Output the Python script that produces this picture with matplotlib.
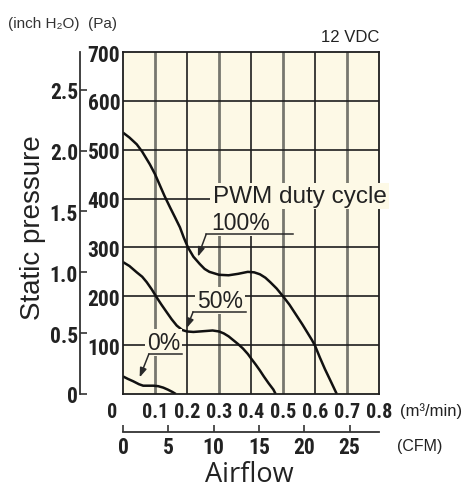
import matplotlib
matplotlib.use("Agg")
import matplotlib.pyplot as plt
from matplotlib import font_manager
import numpy as np

# ---------------- data ----------------
flow_100 = [0.0, 0.02, 0.043, 0.06, 0.084, 0.1, 0.116, 0.13, 0.147, 0.163, 0.178, 0.19,
            0.203, 0.22, 0.24, 0.255, 0.27, 0.30, 0.33, 0.36, 0.39, 0.41, 0.428, 0.445,
            0.46, 0.48, 0.5, 0.52, 0.543, 0.56, 0.575, 0.59, 0.6, 0.615, 0.631, 0.65, 0.668]
pres_100 = [535, 525, 511, 496, 470, 450, 426, 405, 382, 361, 341, 320,
            300, 281, 266, 256, 250, 244, 243, 246, 250, 249, 245, 238,
            229, 216, 200, 183, 160, 143, 127, 111, 99, 75, 51, 25, 0]

flow_50 = [0.0, 0.02, 0.043, 0.06, 0.074, 0.09, 0.105, 0.12, 0.137, 0.152, 0.168, 0.185,
           0.2, 0.22, 0.24, 0.26, 0.28, 0.3, 0.315, 0.33, 0.345, 0.36, 0.375, 0.39,
           0.40, 0.415, 0.428, 0.44, 0.455, 0.47, 0.477]
pres_50 = [270, 262, 249, 240, 229, 214, 198, 183, 167, 153, 140, 131,
           128, 127, 128, 129, 130, 128, 124, 118, 110, 102, 93, 82,
           73, 60, 48, 36, 22, 9, 0]

flow_0 = [0.0, 0.015, 0.032, 0.05, 0.063, 0.08, 0.095, 0.11, 0.126, 0.14, 0.155, 0.165]
pres_0 = [36, 31, 26, 20, 17, 17, 17, 16, 13, 9, 4, 0]

x_ticks = [0.0, 0.1, 0.2, 0.3, 0.4, 0.5, 0.6, 0.7, 0.8]
x_tick_labels = ["", "0.1", "0.2", "0.3", "0.4", "0.5", "0.6", "0.7", "0.8"]
pa_ticks = [0, 100, 200, 300, 400, 500, 600, 700]
pa_tick_labels = ["", "100", "200", "300", "400", "500", "600", "700"]
inch_ticks = [0, 0.5, 1.0, 1.5, 2.0, 2.5]
inch_tick_labels = ["0", "0.5", "1.0", "1.5", "2.0", "2.5"]
cfm_ticks = [0, 5, 10, 15, 20, 25]

PA_PER_INCH = 249.089
M3MIN_PER_CFM = 0.0283168

# ---------------- fonts ----------------
_names = {f.name for f in font_manager.fontManager.ttflist}
NUM_FAMILY = [n for n in ['Liberation Sans Narrow', 'DejaVu Sans Condensed', 'Roboto Condensed',
                          'Liberation Sans', 'DejaVu Sans'] if n in _names] or ['DejaVu Sans']
NUM_FAMILY = NUM_FAMILY + ['DejaVu Sans']
NARROW = NUM_FAMILY[0] in ('Liberation Sans Narrow', 'Roboto Condensed')
NUM_WEIGHT = 'bold' if NARROW else 'normal'

plt.rcParams['font.family'] = NUM_FAMILY
TXT = '#222222'
FACE = '#FDF9E6'
SANS = ['Liberation Sans', 'DejaVu Sans']

W, H = 467, 489
fig = plt.figure(figsize=(W / 100, H / 100), dpi=100)
fig.patch.set_facecolor('white')
ax = fig.add_axes([123 / W, 94 / H, 256 / W, 342 / H])
ax.set_facecolor(FACE)
ax.set_xlim(0, 0.8)
ax.set_ylim(0, 700)

# grid
for i, xv in enumerate(x_ticks[1:-1], start=1):
    if i % 2 == 1:
        ax.axvline(xv, color='#77776f', lw=2.0, zorder=1)
    else:
        ax.axvline(xv, color='#1e1e1e', lw=1.2, zorder=1)
for yv in pa_ticks[1:-1]:
    ax.axhline(yv, color='#1e1e1e', lw=1.2, zorder=1)

for s in ax.spines.values():
    s.set_color('#1e1e1e')
    s.set_linewidth(1.3)
    s.set_zorder(6)

# curves
for fx, py in [(flow_100, pres_100), (flow_50, pres_50), (flow_0, pres_0)]:
    ax.plot(fx, py, color='#111111', lw=1.8, zorder=3, solid_capstyle='butt')

NUM_SIZE = 15.5 if NARROW else 14

# primary ticks
ax.set_yticks(pa_ticks)
ax.set_yticklabels(pa_tick_labels)
ax.tick_params(axis='y', length=0, pad=2, labelsize=NUM_SIZE, labelcolor=TXT)
ax.set_xticks(x_ticks)
ax.set_xticklabels(x_tick_labels)
ax.tick_params(axis='x', length=0, pad=6, labelsize=NUM_SIZE - 1, labelcolor=TXT)
ax.annotate("0", xy=(0, 0), xycoords=('data', 'axes fraction'), xytext=(-7.5, -6),
            textcoords='offset points', ha='center', va='top', fontsize=NUM_SIZE - 1,
            color=TXT, fontweight=NUM_WEIGHT)

# secondary inch axis
sec_y = ax.secondary_yaxis(-43 / 256, functions=(lambda p: p / PA_PER_INCH,
                                                lambda i: i * PA_PER_INCH))
sec_y.set_yticks(inch_ticks)
sec_y.set_yticklabels(inch_tick_labels)
sec_y.tick_params(axis='y', direction='in', length=5, width=1.2, pad=1.5,
                  labelsize=NUM_SIZE, labelcolor=TXT, color='#333333')
sec_y.spines['left'].set_color('#333333')
sec_y.spines['left'].set_linewidth(1.3)

# secondary CFM axis
sec_x = ax.secondary_xaxis(-38 / 342, functions=(lambda m: m / M3MIN_PER_CFM,
                                                lambda c: c * M3MIN_PER_CFM))
sec_x.set_xticks(cfm_ticks)
sec_x.set_xticklabels([str(v) for v in cfm_ticks])
sec_x.tick_params(axis='x', direction='in', length=5, width=1.2, pad=3,
                  labelsize=NUM_SIZE, labelcolor=TXT, color='#333333')
sec_x.spines['bottom'].set_color('#333333')
sec_x.spines['bottom'].set_linewidth(1.3)

for lab in (ax.get_xticklabels() + ax.get_yticklabels() + sec_y.get_yticklabels()
            + sec_x.get_xticklabels()):
    lab.set_fontweight(NUM_WEIGHT)

# annotations
LBL_LW = 1.1
LBL_C = '#2a2a2a'
bbox = dict(facecolor=FACE, edgecolor='none', pad=1.5)

ax.text(0.28, 393, "PWM duty cycle", ha='left', va='baseline', fontsize=17.5,
        family=SANS, color=TXT, zorder=7, bbox=bbox)
ax.text(0.277, 338, "100%", ha='left', va='baseline', fontsize=16.5,
        family=SANS, color=TXT, zorder=4, bbox=bbox)
ax.text(0.231, 178, "50%", ha='left', va='baseline', fontsize=16.5,
        family=SANS, color=TXT, zorder=4, bbox=bbox)
ax.text(0.074, 92, "0%", ha='left', va='baseline', fontsize=16.5,
        family=SANS, color=TXT, zorder=4, bbox=bbox)

leaders = [  # (underline x0, x1, y, tip x, tip y)
    (0.26, 0.53, 327, 0.234, 281),
    (0.219, 0.384, 168, 0.199, 135),
    (0.081, 0.183, 82, 0.052, 34),
]
for x0, x1, yy, tx, ty in leaders:
    ax.plot([x0, x1], [yy, yy], color=LBL_C, lw=LBL_LW, zorder=5)
    ax.annotate('', xy=(tx, ty), xytext=(x0, yy),
                arrowprops=dict(arrowstyle='-|>,head_length=0.55,head_width=0.2',
                                lw=LBL_LW, color=LBL_C, shrinkA=0, shrinkB=0),
                zorder=5)

# figure texts
fig.text(8 / W, 1 - 24 / H, "(inch H₂O)  (Pa)", ha='left', va='center',
         fontsize=11, family=SANS, color='#333333')
fig.text(379 / W, 1 - 38 / H, "12 VDC", ha='right', va='center',
         fontsize=12, family=SANS, color=TXT)
fig.text(431 / W, 1 - 411 / H, "(m³/min)", ha='center', va='center',
         fontsize=12, family=SANS, color=TXT)
fig.text(420 / W, 1 - 447 / H, "(CFM)", ha='center', va='center',
         fontsize=11.5, family=SANS, color=TXT)
fig.text(33 / W, 1 - 228 / H, "Static pressure", rotation=90, ha='center', va='center',
         fontsize=20, family=SANS, color=TXT)
fig.text(249 / W, 1 - 475 / H, "Airflow", ha='center', va='center',
         fontsize=19.5, family=['Open Sans', 'Liberation Sans', 'DejaVu Sans'], color=TXT)

fig.savefig("out.png", dpi=100, facecolor='white')
